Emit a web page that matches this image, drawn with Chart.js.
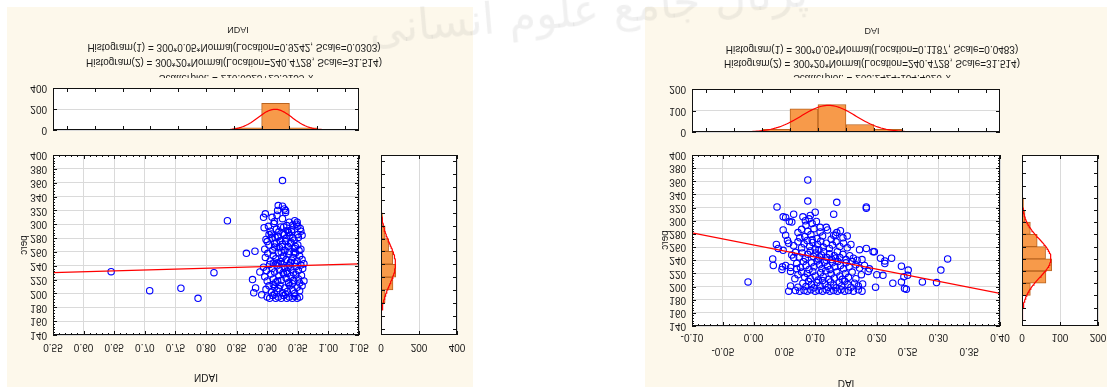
<!DOCTYPE html>
<html>
<head>
<meta charset="utf-8">
<script src="https://cdn.jsdelivr.net/npm/chart.js@4.4.0/dist/chart.umd.min.js"></script>
<style>
  body { margin: 0; width: 1107px; height: 387px; background: #fff; position: relative; overflow: hidden; }
  .panel { position: absolute; background: #fdf8eb; }
  canvas { position: absolute; left: 0; top: 0; }
  .mark { position: absolute; left: 368px; top: -16px; font: 44px "DejaVu Sans", sans-serif; color: rgba(140,140,140,0.13); transform: rotate(-5deg); white-space: nowrap; direction: rtl; }
</style>
</head>
<body>
<div class="panel" style="left:7px;top:7px;width:466px;height:380px"></div>
<div class="panel" style="left:645px;top:7px;width:462px;height:380px"></div>
<div id="charts"></div>
<div class="mark">پرتال جامع علوم انسانی</div>
<script>
// histogram bins (centres) and counts
const ndaiBins = [0.575, 0.625, 0.675, 0.725, 0.775, 0.825, 0.875, 0.925, 0.975, 1.025];
const ndaiCounts = [0, 1, 0, 1, 2, 2, 20, 254, 20, 0];
const daiBins = [-0.075, -0.025, 0.025, 0.075, 0.125, 0.175, 0.225, 0.275, 0.325, 0.375];
const daiCounts = [0, 1, 12, 108, 128, 35, 12, 3, 1, 0];
const percBins = [150, 170, 190, 210, 230, 250, 270, 290, 310, 330, 350, 370, 390];
const percCounts = [0, 0, 22, 63, 78, 62, 40, 22, 8, 4, 0, 1, 0];

// fitted normals: n, bin width, location, scale
const ndaiFit = [300, 0.05, 0.9242, 0.0303];
const daiFit = [300, 0.05, 0.1187, 0.0483];
const percFit = [300, 20, 240.4728, 31.514];

// regression lines: intercept, slope
const ndaiReg = [216.0323, 25.5135];
const daiReg = [263.2424, -184.4026];

// tick labels
const ndaiTicks = ['0.55', '0.60', '0.65', '0.70', '0.75', '0.80', '0.85', '0.90', '0.95', '1.00', '1.05'];
const daiTicks = ['-0.10', '-0.05', '0.00', '0.05', '0.10', '0.15', '0.20', '0.25', '0.30', '0.35', '0.40'];
const percTicks = ['140', '160', '180', '200', '220', '240', '260', '280', '300', '320', '340', '360', '380', '400'];
const ndaiHistTicks = ['0', '200', '400'];
const daiHistTicks = ['0', '100', '200'];

// NDAI vs perc
const ndaiPoints = [
  [0.645,231.5],[0.708,204],[0.759,207.5],[0.787,193],[0.813,230],[0.835,305],[0.866,258],[0.880,261],
  [0.876,220],[0.881,208],[0.878,201],[0.888,231],[0.891,198],[0.925,363],
  [0.895,295],[0.897,315],[0.894,310],[0.918,327],[0.925,326],[0.917,320],[0.930,320],[0.916,313],
  [0.908,310],[0.925,308],[0.930,317],[0.928,322],[0.912,304],[0.936,303],[0.945,305],[0.948,300],
  [0.950,297],[0.955,290],[0.932,298],[0.940,292],[0.905,290],[0.915,293],[0.922,296],[0.928,285],
  [0.903,285],[0.908,280],[0.900,275],[0.912,272],[0.918,282],[0.935,288],[0.942,280],[0.950,285],
  [0.938,272],[0.946,268],[0.952,262],[0.944,260],[0.930,275],[0.925,268],
  [0.902,297],[0.911,301],[0.919,289],[0.927,296],[0.933,291],[0.942,299],[0.949,303],[0.954,294],[0.957,284],
  [0.898,278],[0.907,286],[0.913,281],[0.921,276],[0.926,287],[0.931,280],[0.937,284],[0.944,277],
  [0.951,281],[0.940,289],[0.917,283],
  [0.896,264],[0.903,270],[0.909,262],[0.915,273],[0.920,266],[0.925,271],[0.929,262],[0.934,268],
  [0.939,274],[0.945,265],[0.950,270],[0.955,264],[0.912,267],[0.936,261],[0.923,260],
  [0.897,252],[0.901,258],[0.905,247],[0.910,255],[0.914,250],[0.918,259],[0.922,246],[0.927,254],
  [0.931,249],[0.935,257],[0.938,245],[0.942,252],[0.946,258],[0.949,247],[0.953,254],[0.957,249],
  [0.960,243],[0.924,251],[0.940,248],[0.916,244],
  [0.894,238],[0.899,233],[0.904,242],[0.908,236],[0.912,231],[0.916,240],[0.920,234],[0.924,243],
  [0.928,237],[0.932,232],[0.936,241],[0.939,235],[0.943,230],[0.947,239],[0.951,233],[0.955,241],
  [0.958,236],[0.926,230],[0.918,244],[0.934,238],[0.945,244],[0.910,244],
  [0.896,224],[0.900,218],[0.906,228],[0.910,221],[0.914,216],[0.919,226],[0.923,219],[0.927,228],
  [0.931,222],[0.935,216],[0.939,225],[0.943,219],[0.947,227],[0.951,221],[0.956,226],[0.960,218],
  [0.933,229],[0.917,218],[0.941,214],[0.953,215],
  [0.898,206],[0.903,211],[0.907,202],[0.912,209],[0.916,204],[0.921,212],[0.925,201],[0.929,208],
  [0.933,203],[0.937,211],[0.941,205],[0.945,200],[0.949,209],[0.953,204],[0.957,211],[0.919,207],
  [0.935,214],[0.910,213],
  [0.900,195],[0.904,193],[0.909,197],[0.914,193],[0.918,195],[0.923,193],[0.927,197],[0.932,193],
  [0.936,195],[0.941,193],[0.945,196],[0.949,193],[0.953,195],[0.930,199],[0.912,199]
];

// DAI vs perc
const daiPoints = [
  [-0.009,207],[0.031,242],[0.032,232],[0.038,321],[0.037,264],[0.040,258],[0.046,226],[0.048,255],
  [0.048,306],[0.052,305],[0.058,299],[0.062,298],[0.048,286],[0.052,278],[0.055,270],[0.057,266],
  [0.065,310],[0.047,230],[0.052,232],[0.060,223],[0.060,229],[0.060,201],[0.057,193],[0.065,244],
  [0.070,227],[0.067,212],[0.072,199],[0.075,193],[0.088,362],[0.088,330],[0.135,328],[0.130,310],
  [0.100,313],[0.108,290],[0.118,290],[0.141,285],[0.152,277],[0.130,278],[0.133,278],[0.183,321],
  [0.183,319],[0.172,256],[0.183,258],[0.194,253],[0.196,253],[0.206,243],[0.213,239],[0.213,235],
  [0.224,243],[0.200,218],[0.210,217],[0.198,199],[0.226,205],[0.240,231],[0.240,207],[0.244,215],
  [0.251,225],[0.250,217],[0.245,197],[0.248,196],[0.274,207],[0.297,206],[0.304,225],[0.315,242],
  [0.080,306],[0.084,300],[0.090,303],[0.095,296],[0.102,299],[0.092,308],[0.085,293],
  [0.072,282],[0.078,287],[0.083,276],[0.088,284],[0.093,279],[0.098,288],[0.103,273],[0.108,283],
  [0.112,277],[0.120,286],[0.126,272],[0.135,282],[0.095,271],[0.075,274],[0.145,274],
  [0.065,262],[0.072,268],[0.078,259],[0.082,265],[0.087,270],[0.091,261],[0.096,267],[0.100,257],
  [0.104,264],[0.109,269],[0.113,260],[0.118,266],[0.123,258],[0.128,263],[0.134,268],[0.140,261],
  [0.146,266],[0.152,259],[0.158,264],[0.106,256],
  [0.062,248],[0.068,252],[0.074,245],[0.079,251],[0.084,243],[0.088,249],[0.092,254],[0.097,246],
  [0.101,251],[0.105,242],[0.110,248],[0.114,253],[0.119,244],[0.123,250],[0.127,241],[0.131,247],
  [0.136,253],[0.140,244],[0.145,249],[0.150,241],[0.156,247],[0.162,243],[0.168,240],[0.176,241],
  [0.107,245],[0.133,243],
  [0.070,235],[0.076,229],[0.081,238],[0.085,232],[0.090,226],[0.094,236],[0.098,230],[0.103,239],
  [0.107,233],[0.111,227],[0.115,237],[0.120,231],[0.124,226],[0.128,236],[0.132,230],[0.137,238],
  [0.141,232],[0.146,227],[0.150,236],[0.155,230],[0.160,238],[0.166,233],[0.172,228],[0.180,232],
  [0.188,227],[0.118,240],
  [0.072,218],[0.078,222],[0.083,214],[0.087,220],[0.092,212],[0.096,223],[0.100,216],[0.105,210],
  [0.109,221],[0.113,215],[0.117,224],[0.122,211],[0.126,219],[0.131,213],[0.135,222],[0.140,216],
  [0.144,211],[0.149,220],[0.154,214],[0.160,222],[0.166,212],[0.175,218],[0.186,223],
  [0.080,205],[0.085,200],[0.089,208],[0.094,203],[0.098,198],[0.103,206],[0.108,201],[0.112,209],
  [0.116,204],[0.121,199],[0.125,207],[0.130,202],[0.134,198],[0.139,206],[0.143,201],[0.148,208],
  [0.153,203],[0.158,199],[0.164,205],[0.170,201],[0.177,204],
  [0.082,194],[0.087,193],[0.093,195],[0.100,193],[0.106,194],[0.112,193],[0.118,195],[0.124,193],
  [0.130,194],[0.136,193],[0.142,195],[0.148,193],[0.154,194],[0.162,193],[0.170,195],[0.176,193],[0.068,194]
];

const W = 1107, H = 387;
const FONT = '"Liberation Sans", Arial, sans-serif';
const BAR_FILL = '#f79a4a', BAR_EDGE = '#b9631f', GRID = '#dadada';

// fitted normal density scaled to counts
function normalCurve(fit, from, to) {
  const [n, w, loc, sc] = fit;
  const pts = [];
  for (let i = 0; i <= 160; i++) {
    const v = from + (to - from) * i / 160;
    pts.push([v, n * w * Math.exp(-0.5 * ((v - loc) / sc) ** 2) / (sc * Math.sqrt(2 * Math.PI))]);
  }
  return pts;
}

// text is drawn mirrored top-to-bottom
function flipText(ctx, text, x, y, align, rotated) {
  ctx.save();
  ctx.translate(x, y);
  if (rotated) { ctx.rotate(-Math.PI / 2); ctx.scale(-1, 1); }
  else ctx.scale(1, -1);
  ctx.textAlign = align || 'center';
  ctx.textBaseline = 'middle';
  ctx.fillText(text, 0, 0);
  ctx.restore();
}

const decor = {
  id: 'decor',
  beforeDraw(chart) {
    const a = chart.chartArea, ctx = chart.ctx;
    ctx.save();
    ctx.fillStyle = '#fff';
    ctx.fillRect(a.left, a.top, a.right - a.left, a.bottom - a.top);
    ctx.restore();
  },
  afterDraw(chart, args, o) {
    const ctx = chart.ctx, a = chart.chartArea;
    const xs = chart.scales.x, ys = chart.scales.y;
    ctx.save();
    ctx.strokeStyle = '#111';
    ctx.lineWidth = 1;
    ctx.strokeRect(a.left + 0.5, a.top + 0.5, a.right - a.left - 1, a.bottom - a.top - 1);

    // inward tick marks on all four sides
    ctx.beginPath();
    const minor = o.minor || 0;
    const xv = xs.ticks.map(t => t.value), yv = ys.ticks.map(t => t.value);
    const xMark = (v, len) => {
      const p = Math.round(xs.getPixelForValue(v)) + 0.5;
      ctx.moveTo(p, a.top); ctx.lineTo(p, a.top + len);
      ctx.moveTo(p, a.bottom); ctx.lineTo(p, a.bottom - len);
    };
    const yMark = (v, len) => {
      const p = Math.round(ys.getPixelForValue(v)) + 0.5;
      ctx.moveTo(a.left, p); ctx.lineTo(a.left + len, p);
      ctx.moveTo(a.right, p); ctx.lineTo(a.right - len, p);
    };
    xv.forEach((v, i) => {
      xMark(v, 4);
      if (minor && i < xv.length - 1) for (let k = 1; k < minor; k++) xMark(v + (xv[i + 1] - v) * k / minor, 2);
    });
    yv.forEach((v, i) => {
      yMark(v, 4);
      if (minor && i < yv.length - 1) for (let k = 1; k < minor; k++) yMark(v + (yv[i + 1] - v) * k / minor, 2);
    });
    ctx.stroke();

    ctx.fillStyle = '#1a1a1a';
    ctx.font = '10px ' + FONT;
    (o.xLabels || []).forEach(l => flipText(ctx, l.text, xs.getPixelForValue(l.v), l.y));
    (o.yLabels || []).forEach(l => flipText(ctx, l.text, a.left - 6, ys.getPixelForValue(l.v), 'right'));
    (o.texts || []).forEach(t => {
      ctx.save();
      ctx.font = (t.size || 10) + 'px ' + FONT;
      if (t.clipTo) { ctx.beginPath(); ctx.rect(0, 0, W, t.clipTo); ctx.clip(); }
      flipText(ctx, t.text, t.x, t.y, 'center', t.rotated);
      ctx.restore();
    });
    ctx.restore();
  }
};

function addChart(config) {
  const c = document.createElement('canvas');
  c.width = W; c.height = H;
  document.getElementById('charts').appendChild(c);
  config.options = Object.assign({
    responsive: false, animation: false, events: [], devicePixelRatio: 1
  }, config.options);
  config.options.plugins = Object.assign({ legend: { display: false }, tooltip: { enabled: false } }, config.options.plugins);
  config.plugins = [decor];
  return new Chart(c.getContext('2d'), config);
}

function pad(left, top, right, bottom) {
  return { padding: { left: left, top: top, right: W - right, bottom: H - bottom } };
}

function axis(min, max, step, grid) {
  return {
    type: 'linear', min: min, max: max,
    ticks: { display: false, stepSize: step },
    grid: { display: grid, color: GRID, drawTicks: false, lineWidth: 1 },
    border: { display: false }
  };
}

function valueLabels(texts, y) {
  return texts.map(t => ({ v: parseFloat(t), text: t, y: y }));
}

// one scatter panel with its two marginal histograms
function buildPanel(p) {
  const [x0, x1] = p.xRange;
  // top histogram of the x variable
  addChart({
    type: 'bar',
    data: {
      datasets: [
        { type: 'line', data: normalCurve(p.xFit, x0, x1).map(([x, y]) => ({ x, y })),
          borderColor: '#ff0000', borderWidth: 1.2, pointRadius: 0, order: 0 },
        { data: p.xBins.map((c, i) => ({ x: c, y: p.xCounts[i] })),
          backgroundColor: BAR_FILL, borderColor: BAR_EDGE, borderWidth: 1,
          barPercentage: 1, categoryPercentage: 1, order: 1 }
      ]
    },
    options: {
      layout: pad(p.sx0, p.hy0, p.sx1, p.hy1),
      scales: { x: axis(x0, x1, p.xStep, false), y: axis(0, p.hMax, p.hMax / 2, true) },
      plugins: { decor: { yLabels: p.hTicks.map(t => ({ v: +t, text: t })) } }
    }
  });

  // right histogram of perc
  addChart({
    type: 'bar',
    data: {
      datasets: [
        { type: 'line', data: normalCurve(percFit, 140, 400).map(([y, x]) => ({ x, y })),
          borderColor: '#ff0000', borderWidth: 1.2, pointRadius: 0, order: 0 },
        { data: percBins.map((c, i) => ({ x: percCounts[i], y: c })),
          backgroundColor: BAR_FILL, borderColor: BAR_EDGE, borderWidth: 1,
          barPercentage: 1, categoryPercentage: 1, order: 1 }
      ]
    },
    options: {
      indexAxis: 'y',
      layout: pad(p.rx0, p.sy0, p.rx1, p.sy1),
      scales: { x: axis(0, p.hMax, p.hMax / 2, true), y: axis(140, 400, 20, false) },
      plugins: { decor: { xLabels: valueLabels(p.hTicks, p.rLabelY) } }
    }
  });

  // scatterplot with regression line
  const [b0, b1] = p.reg;
  addChart({
    type: 'scatter',
    data: {
      datasets: [
        { data: [{ x: x0, y: b0 + b1 * x0 }, { x: x1, y: b0 + b1 * x1 }], showLine: true,
          borderColor: '#ff0000', borderWidth: 1.2, pointRadius: 0, order: 0 },
        { data: p.points.map(([x, y]) => ({ x, y })), pointRadius: 3.2,
          borderColor: '#0000ff', backgroundColor: 'rgba(0,0,0,0)', borderWidth: 1.1, order: 1 }
      ]
    },
    options: {
      layout: pad(p.sx0, p.sy0, p.sx1, p.sy1),
      scales: { x: axis(x0, x1, p.xStep, true), y: axis(140, 400, 20, true) },
      plugins: {
        decor: {
          minor: 5,
          xLabels: p.xTicks.map((t, i) => ({ v: parseFloat(t), text: t, y: p.xLabelY[i % p.xLabelY.length] })),
          yLabels: percTicks.map(t => ({ v: +t, text: t })),
          texts: p.texts
        }
      }
    }
  });
}

buildPanel({
  xRange: [0.55, 1.05], xStep: 0.05, xBins: ndaiBins, xCounts: ndaiCounts, xFit: ndaiFit,
  reg: ndaiReg, points: ndaiPoints, xTicks: ndaiTicks, xLabelY: [347],
  hMax: 400, hTicks: ndaiHistTicks, rLabelY: 347,
  sx0: 53, sx1: 359, sy0: 155, sy1: 335, hy0: 88, hy1: 130, rx0: 381, rx1: 457,
  texts: [
    { text: 'NDAI', x: 238, y: 29, size: 9 },
    { text: 'Histogram(1) = 300*0.05*Normal(Location=0.9242, Scale=0.0303)', x: 234, y: 47 },
    { text: 'Histogram(2) = 300*20*Normal(Location=240.4728, Scale=31.514)', x: 234, y: 62 },
    { text: 'Scatterplot: = 216.0323+25.5135*x', x: 236, y: 78, clipTo: 78 },
    { text: 'NDAI', x: 206, y: 377 },
    { text: 'perc', x: 24, y: 245, rotated: true }
  ]
});

buildPanel({
  xRange: [-0.10, 0.40], xStep: 0.05, xBins: daiBins, xCounts: daiCounts, xFit: daiFit,
  reg: daiReg, points: daiPoints, xTicks: daiTicks, xLabelY: [337, 351],
  hMax: 200, hTicks: daiHistTicks, rLabelY: 337,
  sx0: 692, sx1: 1000, sy0: 155, sy1: 326, hy0: 89, hy1: 132, rx0: 1022, rx1: 1098,
  texts: [
    { text: 'DAI', x: 872, y: 30, size: 9 },
    { text: 'Histogram(1) = 300*0.05*Normal(Location=0.1187, Scale=0.0483)', x: 872, y: 49 },
    { text: 'Histogram(2) = 300*20*Normal(Location=240.4728, Scale=31.514)', x: 872, y: 63 },
    { text: 'Scatterplot: = 263.2424-184.4026*x', x: 872, y: 78, clipTo: 78 },
    { text: 'DAI', x: 846, y: 383 },
    { text: 'perc', x: 665, y: 240, rotated: true }
  ]
});
</script>
</body>
</html>
